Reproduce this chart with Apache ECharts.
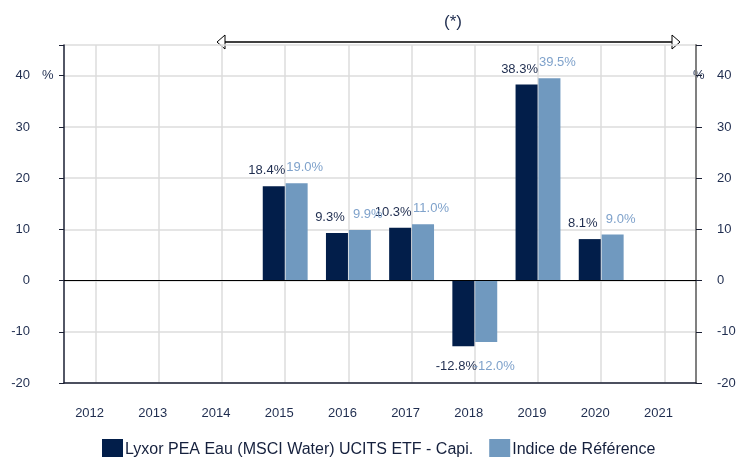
<!DOCTYPE html>
<html>
<head>
<meta charset="utf-8">
<script src="https://cdn.jsdelivr.net/npm/echarts@6/dist/echarts.min.js"></script>
<style>
  html, body { margin: 0; padding: 0; background: #fff; }
  #chart { width: 739px; height: 457px; }
</style>
</head>
<body>
<div id="chart"></div>
<script>
  // annees civiles
  var years = ['2012', '2013', '2014', '2015', '2016', '2017', '2018', '2019', '2020', '2021'];
  var fundName = 'Lyxor PEA Eau (MSCI Water) UCITS ETF - Capi.';
  var indexName = 'Indice de Référence';
  var fundPerf = [null, null, null, 18.4, 9.3, 10.3, -12.8, 38.3, 8.1, null];
  var indexPerf = [null, null, null, 19.0, 9.9, 11.0, -12.0, 39.5, 9.0, null];
  var yTicks = [-20, -10, 0, 10, 20, 30, 40];

  var darkBlue = '#021e4a';
  var lightBlue = '#7099bf';
  var textColor = '#1f2d4f';

  var myChart = echarts.init(document.getElementById('chart'));

  // les valeurs negatives ont leur label sous la barre
  function toItems(arr, dist) {
    return arr.map(function (v) {
      if (v == null) return null;
      if (v < 0) {
        return { value: v, label: { position: 'bottom', distance: dist } };
      }
      return v;
    });
  }

  function pct(p) {
    return p.value == null ? '' : p.value.toFixed(1) + '%';
  }

  function yLabel(v) {
    return yTicks.indexOf(v) >= 0 ? String(v) : '';
  }

  var option = {
    animation: false,
    textStyle: { fontFamily: 'Liberation Sans, Arial, sans-serif' },
    title: {
      text: '(*)',
      left: 448,
      top: 9,
      textAlign: 'center',
      textStyle: { fontSize: 17, fontWeight: 'normal', color: textColor }
    },
    legend: {
      data: [fundName, indexName],
      top: 434,
      left: 97,
      itemWidth: 21,
      itemHeight: 21,
      itemGap: 16,
      icon: 'rect',
      textStyle: { fontSize: 16, color: '#15203d', padding: [0, 0, 0, -3] }
    },
    grid: { left: 64, right: 43, top: 45, bottom: 74 },
    xAxis: {
      type: 'category',
      data: years,
      axisLine: { onZero: false, lineStyle: { color: '#1a1f33', width: 1.5 } },
      axisTick: { show: false },
      axisLabel: { color: textColor, fontSize: 13, margin: 24, padding: [0, 12, 0, 0] },
      splitLine: { show: true, alignWithLabel: true, lineStyle: { color: '#dcdcdc', width: 1.5 } }
    },
    yAxis: [
      {
        type: 'value',
        min: -20,
        max: 46,
        interval: 10,
        position: 'left',
        axisLine: { show: true, lineStyle: { color: '#1a1f33', width: 1.5 } },
        axisTick: { show: true, length: 5, lineStyle: { color: '#1a1f33' } },
        axisLabel: { color: textColor, fontSize: 13, margin: 34, formatter: yLabel },
        splitLine: { show: true, lineStyle: { color: '#dcdcdc', width: 1.5 } }
      },
      {
        type: 'value',
        min: -20,
        max: 46,
        interval: 10,
        position: 'right',
        axisLine: { show: true, lineStyle: { color: '#808080', width: 2 } },
        axisTick: { show: true, length: 6, lineStyle: { color: '#1a1f33' } },
        axisLabel: { color: textColor, fontSize: 13, margin: 21, formatter: yLabel },
        splitLine: { show: false }
      }
    ],
    graphic: [
      { type: 'text', left: 42, top: 69, style: { text: '%', fill: textColor, font: '13px Liberation Sans, Arial' } },
      { type: 'text', left: 693, top: 69, style: { text: '%', fill: textColor, font: '13px Liberation Sans, Arial' } },
      // fleche double (periode)
      { type: 'line', shape: { x1: 224, y1: 42, x2: 673, y2: 42 }, style: { stroke: '#000', lineWidth: 1.5 } },
      { type: 'polygon', shape: { points: [[217, 42], [225, 35], [225, 49]] }, style: { fill: '#fff', stroke: '#000', lineWidth: 1 } },
      { type: 'polygon', shape: { points: [[680, 42], [672, 35], [672, 49]] }, style: { fill: '#fff', stroke: '#000', lineWidth: 1 } }
    ],
    series: [
      {
        name: fundName,
        type: 'bar',
        barWidth: 22,
        barGap: '4%',
        itemStyle: { color: darkBlue },
        label: {
          show: true,
          position: 'top',
          distance: 9,
          offset: [-7, 0],
          color: textColor,
          fontSize: 13,
          formatter: pct
        },
        markLine: {
          silent: true,
          symbol: 'none',
          label: { show: false },
          lineStyle: { color: '#000', width: 1.2, type: 'solid' },
          data: [{ yAxis: 0 }]
        },
        data: toItems(fundPerf, 14)
      },
      {
        name: indexName,
        type: 'bar',
        barWidth: 22,
        itemStyle: { color: lightBlue },
        label: {
          show: true,
          position: 'top',
          distance: 9,
          offset: [8, 0],
          color: '#7fa2cb',
          fontSize: 13,
          formatter: pct
        },
        data: toItems(indexPerf, 18)
      }
    ]
  };
  option && myChart.setOption(option);
</script>
</body>
</html>
